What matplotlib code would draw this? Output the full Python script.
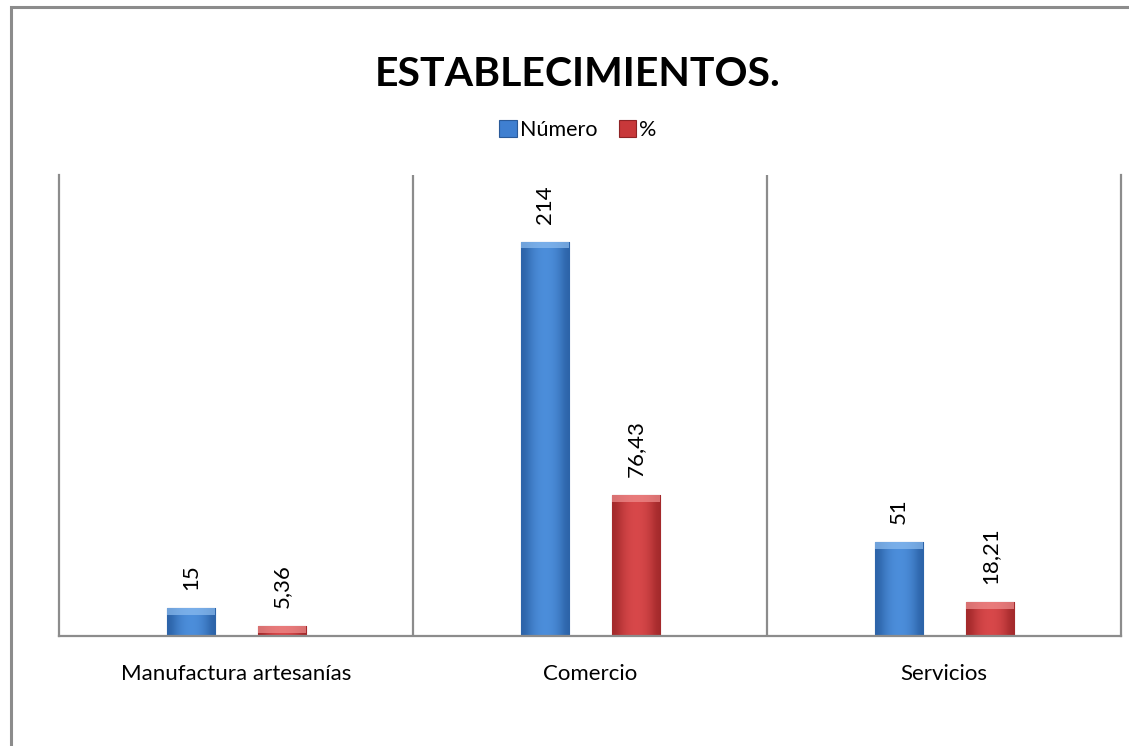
import matplotlib
matplotlib.use("Agg")
import matplotlib.pyplot as plt
from matplotlib.patches import Rectangle
from matplotlib.colors import LinearSegmentedColormap
import numpy as np

plt.rcParams['font.family'] = ['Lato', 'DejaVu Sans']

categorias = ["Manufactura artesanías", "Comercio", "Servicios"]
numero = [15, 214, 51]
porcentaje = [5.36, 76.43, 18.21]
etiq_numero = ["15", "214", "51"]
etiq_porcentaje = ["5,36", "76,43", "18,21"]

azul = "#3f7fd0"
rojo = "#c8383a"
gris = "#8c8c8c"

fig = plt.figure(figsize=(11.29, 7.46), dpi=100)
ax = fig.add_axes([0.0523, 0.1475, 0.9407, 0.618])

# marco exterior del grafico
fig.patches.append(Rectangle((11 / 1129, -0.1), 1.2, (746 - 7) / 746 + 0.1,
                             transform=fig.transFigure, fill=False,
                             edgecolor=gris, linewidth=2.2))

x = np.arange(len(categorias))
ancho = 0.136
b1 = ax.bar(x - 0.128, numero, ancho, color=azul, edgecolor="#2a5a99", linewidth=0.8, label="Número")
b2 = ax.bar(x + 0.13, porcentaje, ancho, color=rojo, edgecolor="#8e2325", linewidth=0.8, label="%")

# degradado horizontal y brillo superior para dar relieve
grad = np.array([[0.0, 0.6, 0.9, 1.0, 0.9, 0.6, 0.0]])
for barras, tonos, claro in ((b1, ["#2c63a8", "#4d8fdc"], "#8dbdf0"),
                             (b2, ["#a3292b", "#d9494b"], "#f09090")):
    cmap = LinearSegmentedColormap.from_list("t", tonos)
    for b in barras:
        x0, w, h = b.get_x(), b.get_width(), b.get_height()
        im = ax.imshow(grad, cmap=cmap, aspect="auto", interpolation="bicubic",
                       extent=(x0, x0 + w, 0, h), zorder=b.get_zorder() + 0.1)
        im.set_clip_path(b)
        t = min(h, 3.5)
        ax.add_patch(Rectangle((x0, h - t), w, t, facecolor=claro, edgecolor="none",
                               alpha=0.7, zorder=b.get_zorder() + 0.2))

for barras, textos in ((b1, etiq_numero), (b2, etiq_porcentaje)):
    for b, t in zip(barras, textos):
        ax.annotate(t, (b.get_x() + b.get_width() / 2, b.get_height()),
                    xytext=(0, 13), textcoords="offset points",
                    rotation=90, ha="center", va="bottom", fontsize=16)

ax.set_xlim(-0.5, 2.5)
ax.set_ylim(0, 250.4)
ax.set_xticks(x)
ax.set_xticklabels(categorias, fontsize=16)
ax.tick_params(axis="x", length=0, pad=20)
ax.set_yticks([])
for xv in (0.5, 1.5):
    ax.axvline(xv, color=gris, linewidth=1.6)
ax.spines["top"].set_visible(False)
for s in ("left", "right", "bottom"):
    ax.spines[s].set_color(gris)
    ax.spines[s].set_linewidth(1.6)

fig.text(0.512, 0.9, "ESTABLECIMIENTOS.", ha="center", va="center",
         fontsize=29.5, fontweight="bold")
fig.legend(handles=[b1, b2], loc="center", bbox_to_anchor=(0.512, 0.826),
           ncol=2, frameon=False, fontsize=15.5, handlelength=0.8, handleheight=0.8,
           handletextpad=0.15, columnspacing=1.0)

fig.savefig("out.png", dpi=100, facecolor="white")
